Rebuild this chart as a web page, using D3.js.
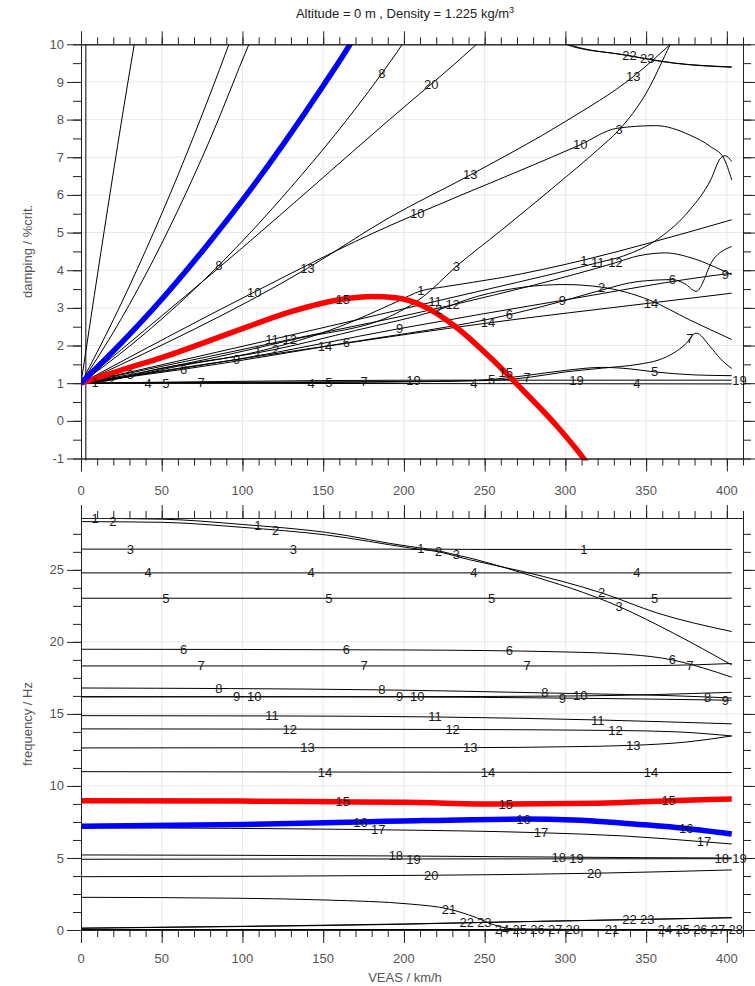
<!DOCTYPE html>
<html>
<head>
<meta charset="utf-8">
<title>V-g / V-f</title>
<script src="https://cdn.jsdelivr.net/npm/d3@7"></script>
<style>
  body { margin: 0; background: #fff; }
  svg text { font-family: "Liberation Sans", Arial, sans-serif; }
</style>
</head>
<body>
<svg id="chart" width="755" height="986"></svg>
<script>
// damping (%crit.) against VEAS (km/h), one list per mode
var g1  = [[0,1],[8.7,1.02],[50,1.4],[109.6,1.84],[160,2.5],[195,3.15],[210.5,3.45],[225,3.56],[260,3.8],[311.4,4.27],[350,4.7],[403,5.34]];
var g2  = [[0,1],[19.7,1.1],[60,1.45],[120.6,1.9],[170,2.4],[221.5,2.95],[245,3.3],[274,3.55],[299,3.62],[322.4,3.55],[352,3.21],[377,2.68],[403,2.16]];
var g3  = [[0,1],[30.6,1.23],[131.5,2.16],[195,2.85],[212,3.3],[232.4,4.1],[260,5.05],[294,6.25],[320,7.2],[333.3,7.73],[350,8.7],[365,10],[372,10.6]];
var g4  = [[0,1],[200,0.99],[403,0.98]];
var g5  = [[0,1],[150,1.02],[230,1.05],[254.3,1.1],[275,1.2],[300,1.34],[323,1.42],[340,1.38],[355.2,1.3],[380,1.22],[403,1.2]];
var g6  = [[0,1],[63.5,1.37],[164.4,2.07],[265.3,2.82],[300,3.2],[323,3.48],[345,3.7],[366.2,3.75],[374,3.64],[381,3.44],[391.5,4.28],[403,4.63]];
var g7  = [[0,1],[74.5,1.02],[175.4,1.04],[250,1.07],[276.3,1.15],[300,1.3],[323,1.4],[345,1.5],[358,1.62],[367,1.8],[374,2.02],[381,2.33],[389.5,1.98],[396,1.65],[403,1.39]];
var g8  = [[0,1],[30,1.98],[84,4.07],[130,6.2],[185,9.15],[199,10],[205,10.4]];
var g9  = [[0,1],[96.4,1.63],[197.3,2.45],[298.2,3.2],[399.1,3.9],[403,3.92]];
var g10 = [[0,1],[107.3,3.42],[191,5.18],[208.2,5.5],[309.1,7.33],[332,7.77],[356,7.84],[377,7.59],[390,7.28],[398,6.98],[403,6.4]];
var g11 = [[0,1],[118.3,2.16],[219.2,3.17],[320.1,4.2],[336,4.38],[358,4.85],[377,5.6],[390,6.4],[396,6.97],[399,7.04],[403,6.89]];
var g12 = [[0,1],[129.3,2.16],[230.2,3.08],[331.1,4.2],[345,4.38],[362,4.46],[380,4.3],[397,4.0],[403,3.88]];
var g13 = [[0,1],[140.2,4.05],[191,5.4],[241.1,6.53],[300,7.95],[342,9.14],[365,10],[370,10.2]];
var g14 = [[0,1],[151.2,1.98],[252.1,2.6],[353,3.13],[403,3.39]];
var g15 = [[0,1],[25,1.35],[50,1.68],[100,2.45],[130,2.9],[162,3.23],[180,3.3],[195,3.27],[212,3.05],[232,2.5],[253,1.7],[274,0.8],[295,-0.15],[313,-1.1],[317,-1.35]];
var g16 = [[0,1],[25,2.07],[50,3.23],[75,4.5],[100,5.86],[125,7.33],[150,8.9],[166.6,10],[172,10.4]];
var g17 = [[0,1],[20,2.68],[40,4.52],[60,6.52],[80,8.68],[91.6,10],[95,10.4]];
var g18 = [[0,1],[20,2.35],[40,3.88],[60,5.59],[80,7.48],[104,10],[108,10.4]];
var g19 = [[0,1],[100,1.05],[206,1.08],[306.9,1.08],[403,1.08]];
var g20 = [[0,1],[100,4.6],[191,8],[245,10],[250,10.2]];
var g21 = [[0,1],[33,10],[35,10.5]];
var g22 = [[290,10.3],[300,10],[336,9.72],[367,9.5],[403,9.39]];
var g23 = [[292,10.3],[302,10],[338,9.71],[368,9.5],[403,9.4]];
var g24 = [[3,-1.5],[3.01,10.5]];

// frequency (Hz) against VEAS (km/h), one list per mode
var f1  = [[0,28.58],[50,28.52],[100,28.15],[152,27.6],[204,26.62],[218,26.44],[240,26.42],[403,26.42]];
var f2  = [[0,28.35],[50,28.3],[100,27.95],[152,27.42],[204,26.52],[221.5,26.25],[240,25.72],[274,24.88],[323,23.38],[357,22.0],[403,20.72]];
var f3  = [[0,26.44],[190,26.44],[215,26.4],[232.4,26.04],[274,24.76],[333.3,22.45],[367,20.6],[403,18.4]];
var f4  = [[0,24.79],[403,24.79]];
var f5  = [[0,23.03],[403,23.03]];
var f6  = [[0,19.49],[200,19.44],[300,19.3],[340,19.12],[366.2,18.75],[385,18.2],[403,17.55]];
var f7  = [[0,18.33],[300,18.33],[360,18.36],[403,18.5]];
var f8  = [[0,16.8],[185,16.67],[286,16.46],[387,16.18],[403,16.1]];
var f9  = [[0,16.2],[197,16.18],[298,16.1],[403,15.95]];
var f10 = [[0,16.18],[208,16.2],[309,16.25],[403,16.5]];
var f11 = [[0,14.88],[118,14.86],[219,14.79],[320,14.58],[403,14.31]];
var f12 = [[0,13.96],[230,13.92],[331,13.85],[370,13.75],[403,13.47]];
var f13 = [[0,12.64],[241,12.66],[300,12.72],[342,12.82],[375,13.05],[403,13.47]];
var f14 = [[0,10.99],[403,10.93]];
var f15 = [[0,8.98],[100,8.95],[162,8.9],[200,8.86],[263,8.74],[320,8.8],[364,8.97],[403,9.1]];
var f16 = [[0,7.2],[100,7.33],[173,7.5],[200,7.57],[274,7.7],[305,7.64],[336,7.41],[375,7.05],[403,6.67]];
var f17 = [[0,7.1],[184,6.96],[285,6.75],[336,6.53],[386,6.12],[403,5.97]];
var f18 = [[0,5.21],[196,5.14],[297,5.06],[397,5.0],[403,5.0]];
var f19 = [[0,4.91],[403,4.95]];
var f20 = [[0,3.7],[217,3.8],[318,3.94],[403,4.17]];
var f21 = [[0,2.27],[100,2.2],[152,2.08],[204,1.8],[228,1.45],[245,0.85],[256,0.35],[268,0.08],[329,0.03],[403,0.02]];
var f22 = [[0,0.12],[100,0.24],[200,0.4],[239,0.5],[340,0.72],[403,0.85]];
var f23 = [[0,0.13],[100,0.26],[200,0.42],[250,0.53],[351,0.74],[403,0.86]];
var f24 = [[0,0.01],[403,0.03]];
var f25 = [[0,0.01],[403,0.02]];
var f26 = [[0,0],[403,0.02]];
var f27 = [[0,0],[403,0.02]];
var f28 = [[0,0],[403,0.02]];

var dampCurves = [g1,g2,g3,g4,g5,g6,g7,g8,g9,g10,g11,g12,g13,g14,g15,g16,g17,g18,g19,g20,g21,g22,g23,g24,null,null,null,null];
var freqCurves = [f1,f2,f3,f4,f5,f6,f7,f8,f9,f10,f11,f12,f13,f14,f15,f16,f17,f18,f19,f20,f21,f22,f23,f24,f25,f26,f27,f28];

var xTicks = [0, 50, 100, 150, 200, 250, 300, 350, 400];
var dampTicks = [-1, 0, 1, 2, 3, 4, 5, 6, 7, 8, 9, 10];
var freqTicks = [0, 5, 10, 15, 20, 25];
var highlight = {15: "#ff0000", 16: "#0000ff"};

// mode numbers are written every few speed steps along each curve
var labelV0 = 8.7, labelDV = 10.96, labelPeriod = 100.9;

var svg = d3.select("#chart");
var x = d3.scaleLinear().domain([0, 410]).range([81, 743]);
var yD = d3.scaleLinear().domain([-1, 10]).range([458.5, 44.3]);
var yF = d3.scaleLinear().domain([0, 28.6]).range([930, 518]);

svg.append("text")
  .attr("x", 405).attr("y", 18)
  .attr("text-anchor", "middle")
  .attr("font-size", 13).attr("fill", "#222")
  .text("Altitude = 0 m , Density = 1.225 kg/m")
  .append("tspan").attr("dy", -5).attr("font-size", 9).text("3");

function panel(y, yMajor, yMinor, curves, labelY, yTitle, clipId) {
  var top = y.range()[1], bot = y.range()[0];
  var g = svg.append("g");

  // faint grid
  g.selectAll(".gx").data(xTicks.slice(1)).enter().append("line")
    .attr("x1", d => x(d)).attr("x2", d => x(d)).attr("y1", top).attr("y2", bot)
    .attr("stroke", "#e8e8e8");
  g.selectAll(".gy").data(yMajor.slice(1, -1)).enter().append("line")
    .attr("x1", x(0)).attr("x2", x(410)).attr("y1", d => y(d)).attr("y2", d => y(d))
    .attr("stroke", "#e8e8e8");

  svg.append("clipPath").attr("id", clipId).append("rect")
    .attr("x", x(0)).attr("y", top).attr("width", x(410) - x(0)).attr("height", bot - top + 2);

  var line = d3.line().x(d => x(d[0])).y(d => y(d[1])).curve(d3.curveMonotoneX);
  var lines = g.append("g").attr("clip-path", "url(#" + clipId + ")");
  var paths = [];
  var order = d3.range(28).sort((a, b) => (highlight[a + 1] ? 1 : 0) - (highlight[b + 1] ? 1 : 0));
  order.forEach(function(i) {
    if (!curves[i]) return;
    var c = highlight[i + 1];
    paths[i] = lines.append("path").datum(curves[i])
      .attr("d", line).attr("fill", "none")
      .attr("stroke", c || "#000").attr("stroke-width", c ? 5.5 : 1);
  });

  // axes: minor and major ticks on all four sides
  var minorX = d3.range(0, 411, 10);
  function ax(gen, vals, size, tx, ty) {
    var a = g.append("g").attr("transform", "translate(" + tx + "," + ty + ")")
      .call(gen.tickValues(vals).tickSize(size).tickSizeOuter(0).tickFormat(""));
    a.selectAll("path,line").attr("stroke", "#222");
  }
  ax(d3.axisBottom(x), minorX, 7, 0, bot);
  ax(d3.axisBottom(x), xTicks, 13, 0, bot);
  ax(d3.axisTop(x), minorX, 7, 0, top);
  ax(d3.axisTop(x), xTicks, 13, 0, top);
  ax(d3.axisLeft(y), yMinor, 8, x(0), 0);
  ax(d3.axisLeft(y), yMajor, 14, x(0), 0);
  ax(d3.axisRight(y), yMinor, 8, x(410), 0);
  ax(d3.axisRight(y), yMajor, 14, x(410), 0);

  g.selectAll(".yl").data(yMajor).enter().append("text")
    .attr("x", 64).attr("y", d => y(d)).attr("dy", "0.35em")
    .attr("text-anchor", "end").attr("font-size", 13).attr("fill", "#555")
    .text(d => d);
  g.selectAll(".xl").data(xTicks).enter().append("text")
    .attr("x", d => x(d)).attr("y", labelY).attr("dy", "0.35em")
    .attr("text-anchor", "middle").attr("font-size", 13).attr("fill", "#555")
    .text(d => d);
  g.append("text")
    .attr("transform", "translate(32," + ((top + bot) / 2) + ") rotate(-90)")
    .attr("text-anchor", "middle").attr("font-size", 13).attr("fill", "#555")
    .text(yTitle);

  // mode numbers on the curves; higher modes go first and a number landing
  // right on top of one already written is left out
  var labels = g.append("g"), placed = [];
  d3.range(curves.length - 1, -1, -1).forEach(function(i) {
    var c = curves[i];
    if (!c) return;
    var path = paths[i].node(), L = path.getTotalLength();
    var first = c[0][0], last = c[c.length - 1][0];
    for (var n = 0; n < 5; n++) {
      var v = labelV0 + i * labelDV + n * labelPeriod;
      if (v > 409 || v < first) continue;
      if (v > last && last < 400) continue;
      var px = x(Math.min(v, last)), lo = 0, hi = L;
      for (var k = 0; k < 30; k++) {
        var mid = (lo + hi) / 2;
        if (path.getPointAtLength(mid).x < px) lo = mid; else hi = mid;
      }
      var p = path.getPointAtLength(hi);
      if (p.y < top - 1 || p.y > bot + 1) continue;
      var cx = x(v);
      if (placed.some(q => Math.abs(q[0] - cx) < 8 && Math.abs(q[1] - p.y) < 6)) continue;
      placed.push([cx, p.y]);
      labels.append("text")
        .attr("x", cx).attr("y", p.y).attr("dy", "0.35em")
        .attr("text-anchor", "middle").attr("font-size", 13).attr("fill", "#1a1a1a")
        .text(i + 1);
    }
  });
}

panel(yD, dampTicks, d3.range(-1, 10.01, 0.5), dampCurves, 490, "damping / %crit.", "clipD");
panel(yF, freqTicks, d3.range(0, 28.6, 1.25), freqCurves, 958, "frequency / Hz", "clipF");

svg.append("text")
  .attr("x", 405).attr("y", 977).attr("dy", "0.35em")
  .attr("text-anchor", "middle").attr("font-size", 13).attr("fill", "#555")
  .text("VEAS / km/h");
</script>
</body>
</html>
